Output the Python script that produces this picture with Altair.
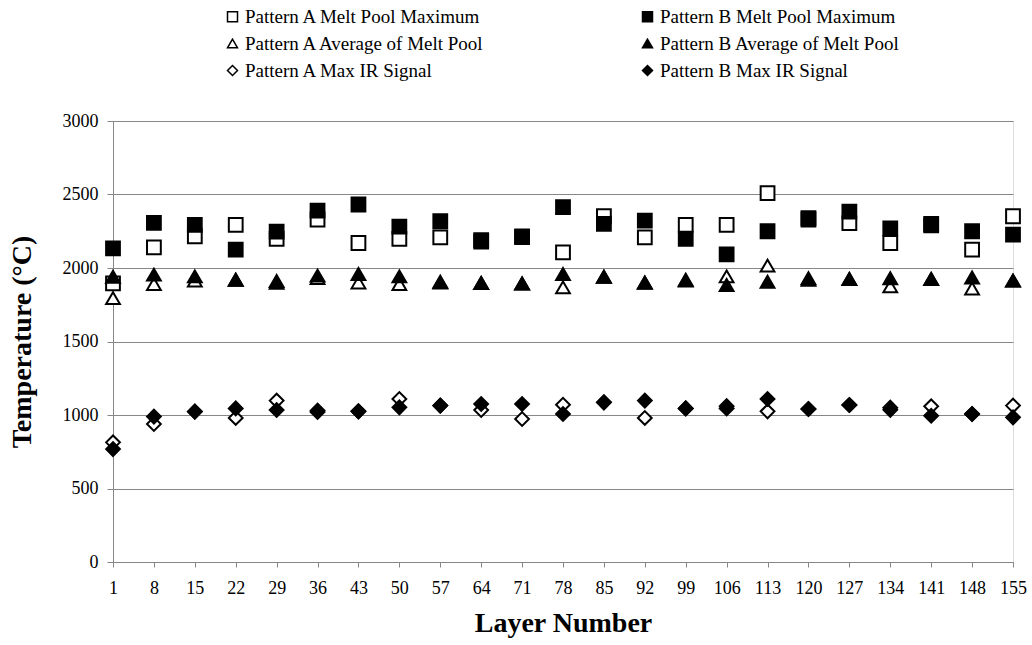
import altair as alt
import pandas as pd

layers = [1, 8, 15, 22, 29, 36, 43, 50, 57, 64, 71, 78, 85, 92, 99, 106, 113, 120, 127, 134, 141, 148, 155]

a_max = [1895, 2141, 2216, 2293, 2198, 2330, 2170, 2198, 2209, 2190, 2215, 2107, 2352, 2209, 2293, 2293, 2509, 2330, 2305, 2170, 2300, 2125, 2352]
b_max = [2134, 2307, 2293, 2125, 2248, 2391, 2432, 2282, 2318, 2180, 2210, 2414, 2300, 2323, 2198, 2093, 2250, 2340, 2384, 2270, 2290, 2250, 2227]
a_avg = [1795, 1891, 1914, 1920, 1900, 1932, 1902, 1891, 1902, 1898, 1895, 1868, 1941, 1900, 1914, 1943, 2016, 1920, 1925, 1875, 1925, 1861, 1914]
b_avg = [1940, 1955, 1943, 1920, 1911, 1948, 1959, 1943, 1907, 1898, 1895, 1959, 1941, 1902, 1920, 1884, 1907, 1930, 1925, 1930, 1925, 1936, 1914]
a_ir = [814, 939, 1023, 980, 1098, 1030, 1025, 1109, 1064, 1034, 973, 1070, 1086, 980, 1045, 1060, 1025, 1041, 1068, 1050, 1059, 1007, 1064]
b_ir = [768, 989, 1023, 1045, 1034, 1020, 1025, 1052, 1064, 1075, 1075, 1007, 1086, 1098, 1045, 1045, 1109, 1041, 1068, 1035, 995, 1007, 984]

names = [
    "Pattern A Melt Pool Maximum",
    "Pattern B Melt Pool Maximum",
    "Pattern A Average of Melt Pool",
    "Pattern B Average of Melt Pool",
    "Pattern A Max IR Signal",
    "Pattern B Max IR Signal",
]
shapes = ["square", "square", "triangle-up", "triangle-up", "diamond", "diamond"]
fills = ["white", "black", "white", "black", "white", "black"]
strokes = ["black"] * 6

series_data = {
    names[0]: a_max,
    names[2]: a_avg,
    names[4]: a_ir,
    names[1]: b_max,
    names[3]: b_avg,
    names[5]: b_ir,
}

rows = []
order = 0
for name, vals in series_data.items():
    for lay, v in zip(layers, vals):
        rows.append({"Layer": str(lay), "Temp": v, "Series": name, "ord": order})
        order += 1
df = pd.DataFrame(rows)

font = "Liberation Serif"
gray = "#878787"

legend = alt.Legend(title=None, orient="none", legendX=110, legendY=-114,
                    direction="horizontal", columns=2, columnPadding=152, rowPadding=7,
                    labelFont=font, labelFontSize=19, labelColor="black", labelLimit=500,
                    symbolSize=100, symbolStrokeWidth=1.5, labelOffset=3)

chart = alt.Chart(df).mark_point(filled=True, strokeWidth=2, opacity=1, size=190).encode(
    x=alt.X("Layer:O", sort=[str(l) for l in layers],
            scale=alt.Scale(type="point", padding=0),
            axis=alt.Axis(title="Layer Number", labelAngle=0, labelFont=font, labelFontSize=18,
                          labelColor="black", titleFont=font, titleFontSize=28, titleFontWeight="bold",
                          titleColor="black", domainColor=gray, tickColor=gray, tickSize=5,
                          labelPadding=12, titlePadding=12, grid=False)),
    y=alt.Y("Temp:Q", scale=alt.Scale(domain=[0, 3000], nice=False),
            axis=alt.Axis(title="Temperature (°C)", values=[0, 500, 1000, 1500, 2000, 2500, 3000],
                          format="d",
                          labelFont=font, labelFontSize=18, labelColor="black",
                          titleFont=font, titleFontSize=28, titleFontWeight="bold", titleColor="black",
                          domainColor=gray, tickColor=gray, tickSize=6, gridColor=gray, gridWidth=1,
                          labelPadding=9, titlePadding=26)),
    shape=alt.Shape("Series:N", scale=alt.Scale(domain=names, range=shapes), legend=legend),
    fill=alt.Fill("Series:N", scale=alt.Scale(domain=names, range=fills), legend=legend),
    stroke=alt.Stroke("Series:N", scale=alt.Scale(domain=names, range=strokes), legend=legend),
    order=alt.Order("ord:Q"),
).properties(
    width=900, height=441,
    autosize=alt.AutoSizeParams(type="none"),
    padding={"left": 113, "top": 121, "right": 19, "bottom": 83},
).configure_view(stroke=None).configure(background="white")

chart.save("out.html", embed_options={"renderer": "svg", "actions": False})
